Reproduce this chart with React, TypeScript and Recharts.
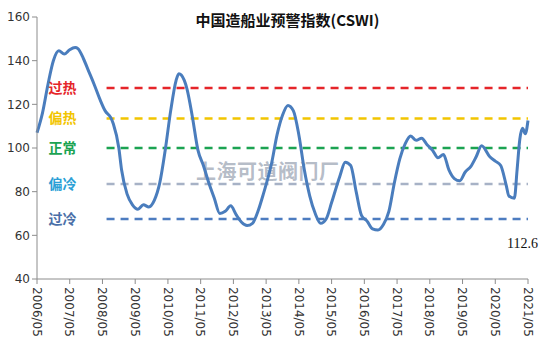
import React from 'react';
import {
  LineChart,
  Line,
  XAxis,
  YAxis,
  ReferenceLine,
} from 'recharts';

// month offset from 2006/05 and CSWI value
const MONTHS = [
  0, 2, 4, 6, 8, 10, 12, 14, 15, 17, 19, 21, 23, 25, 27, 28, 30, 31, 33, 35,
  37, 39, 41, 43, 45, 47, 49, 51, 52, 54, 55, 57, 59, 61, 63, 65, 67, 69, 71, 73,
  75, 77, 79, 81, 83, 86, 88, 90, 92, 94, 96, 98, 100, 102, 104, 106, 108, 111, 113, 115,
  117, 119, 121, 123, 125, 127, 129, 131, 133, 135, 137, 139, 141, 143, 145, 147, 149, 151, 153, 155,
  157, 159, 161, 163, 166, 168, 170, 172, 173, 175, 176, 177, 178, 179, 180,
];
const CSWI = [
  107, 116, 129, 140, 144.5, 143, 145, 146, 145.5, 141, 135, 129, 122.5, 117, 114, 111, 100, 90, 79, 74,
  72, 74, 73, 76, 84, 99, 117, 131, 134, 131, 127, 114, 99, 92, 84, 77, 70, 71, 73.5, 69.5,
  66, 64.5, 65.5, 71, 79, 93, 106, 115, 119.5, 117, 106, 90, 78, 70, 65.5, 67.5, 75, 87, 93.5, 92,
  80, 69, 66.5, 63, 62.5, 65, 71, 84, 95, 102, 105.5, 103.5, 104.5, 101.5, 99, 95.5, 97, 90, 86, 85,
  89, 91.5, 96, 101, 96, 94, 92, 83, 78, 77, 90, 104, 109, 106.5, 112.6,
];

const TICK_LABELS = [
  '2006/05', '2007/05', '2008/05', '2009/05', '2010/05', '2011/05', '2012/05', '2013/05',
  '2014/05', '2015/05', '2016/05', '2017/05', '2018/05', '2019/05', '2020/05', '2021/05',
];
const TICKS = TICK_LABELS.map((_, i) => i * 12);

const LEVELS = ['过热', '偏热', '正常', '偏冷', '过冷'];
const LEVEL_VALUES = [127.5, 113.5, 100, 83.5, 67.5];
const LINE_COLORS = ['#e5252a', '#f2c500', '#1ba352', '#a7b2c6', '#4d7cc0'];
const LABEL_COLORS = ['#e5252a', '#f2c500', '#1ba352', '#2b9fd6', '#4a6fa8'];

const data = MONTHS.map((m, i) => ({ m, v: CSWI[i] }));

const XTick = (props: any) => {
  const { x, payload } = props;
  const y = 287;
  return (
    <text
      x={x}
      y={y}
      dy="0.36em"
      transform={`rotate(90 ${x} ${y})`}
      fontSize={12}
      fontFamily="DejaVu Sans, Verdana, sans-serif"
      fill="#333"
      textAnchor="start"
    >
      {TICK_LABELS[Math.round(payload.value / 12)]}
    </text>
  );
};

export default function App() {
  return (
    <div style={{ position: 'absolute', left: 0, top: 0, width: 555, height: 341, background: '#fff' }}>
      <div
        style={{
          position: 'absolute',
          left: 0,
          width: 575,
          top: 10,
          textAlign: 'center',
          fontFamily: '"Noto Sans CJK SC", sans-serif',
          fontWeight: 700,
          fontSize: 15,
          lineHeight: '20px',
          color: '#111',
        }}
      >
        中国造船业预警指数(CSWI)
      </div>
      <div
        style={{
          position: 'absolute',
          left: 196,
          top: 157,
          fontFamily: '"Noto Sans CJK SC", sans-serif',
          fontWeight: 700,
          fontSize: 20,
          lineHeight: '28px',
          letterSpacing: 0.5,
          color: 'rgba(150,160,175,0.7)',
        }}
      >
        上海可道阀门厂
      </div>
      <LineChart
        width={555}
        height={341}
        data={data}
        margin={{ top: 17, right: 27, left: 0, bottom: 0 }}
        style={{ position: 'absolute', left: 0, top: 0 }}
      >
        <XAxis
          dataKey="m"
          type="number"
          domain={[0, 180]}
          ticks={TICKS}
          interval={0}
          height={62}
          stroke="#8c8c8c"
          tickSize={5}
          tick={<XTick />}
        />
        <YAxis
          type="number"
          domain={[40, 160]}
          ticks={[40, 60, 80, 100, 120, 140, 160]}
          width={37}
          stroke="#8c8c8c"
          tickSize={5}
          tickMargin={2}
          tick={{ fill: '#333', fontSize: 12, fontFamily: 'DejaVu Sans, Verdana, sans-serif' }}
        />
        {LEVELS.map((name, i) => (
          <ReferenceLine
            key={name}
            segment={[
              { x: 25.5, y: LEVEL_VALUES[i] },
              { x: 180, y: LEVEL_VALUES[i] },
            ]}
            stroke={LINE_COLORS[i]}
            strokeWidth={2.5}
            strokeDasharray="8 6"
            label={{
              value: name,
              position: 'left',
              offset: 30,
              fill: LABEL_COLORS[i],
              fontSize: 14,
              fontWeight: 700,
              fontFamily: '"Noto Sans CJK SC", sans-serif',
            }}
          />
        ))}
        <Line
          type="monotone"
          dataKey="v"
          stroke="#4a7dbd"
          strokeWidth={3}
          dot={false}
          isAnimationActive={false}
        />
      </LineChart>
      <div
        style={{
          position: 'absolute',
          left: 507,
          top: 236,
          fontFamily: '"Liberation Serif", serif',
          fontSize: 14,
          color: '#111',
        }}
      >
        112.6
      </div>
    </div>
  );
}
